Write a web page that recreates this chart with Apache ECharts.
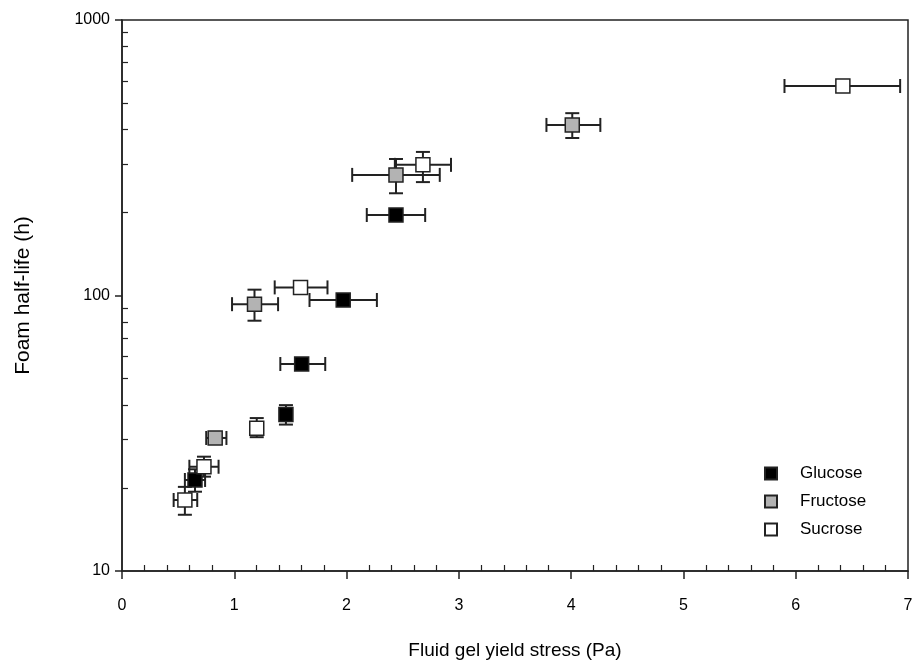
<!DOCTYPE html>
<html><head><meta charset="utf-8">
<script src="https://cdn.jsdelivr.net/npm/echarts@6/dist/echarts.min.js"></script>
<style>html,body{margin:0;padding:0;background:#fff}#c{width:917px;height:661px}</style>
</head><body><div id="c"></div>
<script>
// Glucose
const glucoseX     = [0.65, 1.46, 1.60, 1.97, 2.44];
const glucoseY     = [21.4, 37.0, 56.4, 96.3, 196];
const glucoseXLow  = [0.56, 1.43, 1.41, 1.67, 2.18];
const glucoseXHigh = [0.74, 1.49, 1.81, 2.27, 2.70];
const glucoseYLow  = [19.4, 34.0, 56.4, 96.3, 196];
const glucoseYHigh = [23.4, 40.0, 56.4, 96.3, 196];
// Fructose
const fructoseX     = [0.83, 1.18, 2.44, 4.01];
const fructoseY     = [30.4, 93, 274, 416];
const fructoseXLow  = [0.75, 0.98, 2.05, 3.78];
const fructoseXHigh = [0.93, 1.39, 2.83, 4.26];
const fructoseYLow  = [30.4, 81, 235, 373];
const fructoseYHigh = [30.4, 105, 313, 459];
// Sucrose
const sucroseX     = [0.56, 0.73, 1.20, 1.59, 2.68, 6.42];
const sucroseY     = [18.1, 23.9, 33.0, 107, 298, 576];
const sucroseXLow  = [0.46, 0.60, 1.16, 1.36, 2.43, 5.90];
const sucroseXHigh = [0.67, 0.86, 1.24, 1.83, 2.93, 6.93];
const sucroseYLow  = [16.0, 22.0, 30.6, 107, 258, 548];
const sucroseYHigh = [20.2, 26.0, 35.9, 107, 332, 606];

const xTickValues = [0,1,2,3,4,5,6,7];
const yTickValues = [10,100,1000];
const seriesNames = ['Glucose','Fructose','Sucrose'];
const seriesColors = ['#000000','#b3b3b3','#ffffff'];

const FONT = '"Liberation Sans", Arial, sans-serif';

function rows(x,y,xl,xh,yl,yh){return x.map((v,i)=>[v,y[i],xl[i],xh[i],yl[i],yh[i]]);}
const sets = [
  rows(glucoseX,glucoseY,glucoseXLow,glucoseXHigh,glucoseYLow,glucoseYHigh),
  rows(fructoseX,fructoseY,fructoseXLow,fructoseXHigh,fructoseYLow,fructoseYHigh),
  rows(sucroseX,sucroseY,sucroseXLow,sucroseXHigh,sucroseYLow,sucroseYHigh)
];

const CAP = 7;
function errRender(params, api){
  const x=api.value(0), y=api.value(1), xl=api.value(2), xh=api.value(3), yl=api.value(4), yh=api.value(5);
  const st = {stroke:'#222', lineWidth:2};
  const ch = [];
  const c = api.coord([x,y]);
  if (xh > xl) {
    const a = api.coord([xl,y]), b = api.coord([xh,y]);
    ch.push({type:'line',shape:{x1:a[0],y1:c[1],x2:b[0],y2:c[1]},style:st});
    ch.push({type:'line',shape:{x1:a[0],y1:c[1]-CAP,x2:a[0],y2:c[1]+CAP},style:st});
    ch.push({type:'line',shape:{x1:b[0],y1:c[1]-CAP,x2:b[0],y2:c[1]+CAP},style:st});
  }
  if (yh > yl) {
    const a = api.coord([x,yl]), b = api.coord([x,yh]);
    ch.push({type:'line',shape:{x1:c[0],y1:a[1],x2:c[0],y2:b[1]},style:st});
    ch.push({type:'line',shape:{x1:c[0]-CAP,y1:a[1],x2:c[0]+CAP,y2:a[1]},style:st});
    ch.push({type:'line',shape:{x1:c[0]-CAP,y1:b[1],x2:c[0]+CAP,y2:b[1]},style:st});
  }
  return {type:'group',children:ch};
}

const xMinor = [];
for (let i=0;i<7;i++) for (let j=1;j<5;j++) xMinor.push(+(i+j*0.2).toFixed(1));
const yMinor = [20,30,40,50,60,70,80,90,200,300,400,500,600,700,800,900];

const series = [];
sets.forEach((d,k)=>{
  series.push({type:'custom',name:seriesNames[k]+' err',renderItem:errRender,data:d,z:2,silent:true,
    encode:{x:0,y:1}, xAxisIndex:0, yAxisIndex:0});
});
sets.forEach((d,k)=>{
  series.push({type:'scatter',name:seriesNames[k],data:d.map(r=>[r[0],r[1]]),symbol:'rect',symbolSize:14,z:5,
    itemStyle:{color:seriesColors[k],borderColor:'#222',borderWidth:1.5,opacity:1},
    xAxisIndex:0,yAxisIndex:0});
});

const chart = echarts.init(document.getElementById('c'),null,{renderer:'canvas'});
chart.setOption({
  animation:false,
  backgroundColor:'#fff',
  grid:{left:122,right:9,top:20,bottom:90,show:true,borderColor:'#222',borderWidth:1.5,backgroundColor:'transparent',
    containLabel:false,outerBoundsMode:'none'},
  legend:{data:seriesNames,orient:'vertical',left:759,top:460,itemWidth:12,itemHeight:12,itemGap:11,
    icon:'rect',textStyle:{fontFamily:FONT,fontSize:17,color:'#000',padding:[0,0,0,18]}},
  xAxis:[{type:'value',min:0,max:7,interval:1,position:'bottom',
    name:'Fluid gel yield stress (Pa)',nameLocation:'middle',nameGap:70,
    nameTextStyle:{fontFamily:FONT,fontSize:19,color:'#000'},
    axisLine:{show:true,onZero:false,lineStyle:{color:'#222',width:1.5}},
    axisTick:{show:true,inside:false,length:8,lineStyle:{color:'#222',width:1.5},customValues:xTickValues},
    axisLabel:{fontFamily:FONT,fontSize:16,color:'#000',margin:27,customValues:xTickValues},
    splitLine:{show:false}},
   {type:'value',min:0,max:7,position:'bottom',
    axisLine:{show:false},
    axisTick:{show:true,inside:true,length:6,lineStyle:{color:'#222',width:1.2},customValues:xMinor},
    axisLabel:{show:false},splitLine:{show:false}}],
  yAxis:[{type:'log',logBase:10,min:10,max:1000,position:'left',
    name:'Foam half-life (h)',nameLocation:'middle',nameGap:88,nameRotate:90,
    nameTextStyle:{fontFamily:FONT,fontSize:21,color:'#000'},
    axisLine:{show:true,onZero:false,lineStyle:{color:'#222',width:1.5}},
    axisTick:{show:true,inside:false,length:7,lineStyle:{color:'#222',width:1.5},customValues:yTickValues},
    axisLabel:{fontFamily:FONT,fontSize:16,color:'#000',margin:12,customValues:yTickValues,
      formatter:v=>String(Math.round(v))},
    splitLine:{show:false},minorTick:{show:false}},
   {type:'log',logBase:10,min:10,max:1000,position:'left',
    axisLine:{show:false},
    axisTick:{show:true,inside:true,length:6,lineStyle:{color:'#222',width:1.2},customValues:yMinor},
    axisLabel:{show:false},splitLine:{show:false}}],
  series:series
});
</script></body></html>
